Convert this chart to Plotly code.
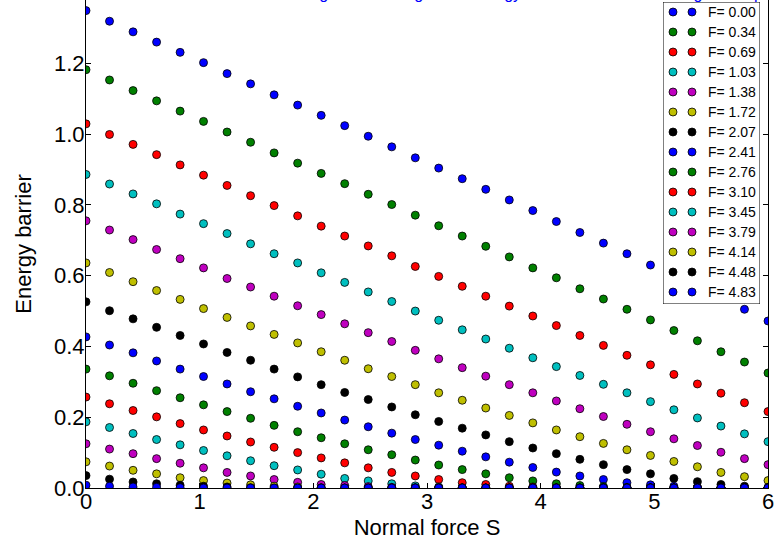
import plotly.graph_objects as go

# ---------------- data ----------------
S = [0.0, 0.207, 0.414, 0.621, 0.828, 1.034, 1.241, 1.448, 1.655, 1.862,
     2.069, 2.276, 2.483, 2.690, 2.897, 3.103, 3.310, 3.517, 3.724, 3.931,
     4.138, 4.345, 4.552, 4.759, 4.966, 5.172, 5.379, 5.586, 5.793, 6.0]

labels = ["F= 0.00", "F= 0.34", "F= 0.69", "F= 1.03", "F= 1.38", "F= 1.72",
          "F= 2.07", "F= 2.41", "F= 2.76", "F= 3.10", "F= 3.45", "F= 3.79",
          "F= 4.14", "F= 4.48", "F= 4.83"]

E_000 = [1.349, 1.319, 1.289, 1.260, 1.231, 1.202, 1.171, 1.142, 1.111, 1.082,
         1.053, 1.024, 0.994, 0.964, 0.933, 0.904, 0.874, 0.844, 0.814, 0.784,
         0.753, 0.722, 0.692, 0.662, 0.630, 0.599, 0.568, 0.536, 0.505, 0.472]
E_034 = [1.182, 1.153, 1.123, 1.094, 1.065, 1.036, 1.006, 0.977, 0.947, 0.918,
         0.889, 0.860, 0.830, 0.801, 0.771, 0.741, 0.712, 0.683, 0.653, 0.622,
         0.594, 0.563, 0.534, 0.505, 0.475, 0.445, 0.416, 0.385, 0.356, 0.325]
E_069 = [1.029, 0.999, 0.971, 0.942, 0.913, 0.884, 0.855, 0.826, 0.798, 0.769,
         0.740, 0.712, 0.684, 0.656, 0.626, 0.598, 0.570, 0.542, 0.514, 0.486,
         0.459, 0.431, 0.403, 0.375, 0.348, 0.321, 0.294, 0.268, 0.241, 0.216]
E_103 = [0.886, 0.859, 0.831, 0.803, 0.774, 0.747, 0.719, 0.690, 0.662, 0.636,
         0.608, 0.581, 0.554, 0.527, 0.500, 0.474, 0.447, 0.421, 0.395, 0.368,
         0.343, 0.318, 0.293, 0.269, 0.244, 0.221, 0.198, 0.175, 0.153, 0.131]
E_138 = [0.755, 0.729, 0.702, 0.674, 0.648, 0.622, 0.592, 0.568, 0.542, 0.515,
         0.490, 0.464, 0.439, 0.414, 0.389, 0.365, 0.340, 0.316, 0.292, 0.269,
         0.246, 0.224, 0.202, 0.180, 0.159, 0.139, 0.120, 0.101, 0.083, 0.066]
E_172 = [0.636, 0.609, 0.583, 0.558, 0.533, 0.507, 0.482, 0.458, 0.434, 0.410,
         0.385, 0.361, 0.337, 0.315, 0.292, 0.269, 0.248, 0.226, 0.205, 0.184,
         0.164, 0.145, 0.126, 0.108, 0.092, 0.075, 0.060, 0.044, 0.032, 0.021]
E_207 = [0.526, 0.501, 0.478, 0.454, 0.431, 0.407, 0.383, 0.361, 0.336, 0.314,
         0.292, 0.270, 0.250, 0.229, 0.207, 0.188, 0.169, 0.150, 0.131, 0.113,
         0.097, 0.081, 0.066, 0.052, 0.040, 0.027, 0.018, 0.010, 0.005, 0.002]
E_241 = [0.427, 0.404, 0.382, 0.359, 0.336, 0.315, 0.294, 0.272, 0.252, 0.231,
         0.212, 0.192, 0.173, 0.155, 0.137, 0.121, 0.104, 0.088, 0.073, 0.058,
         0.045, 0.034, 0.024, 0.015, 0.009, 0.005, 0.002, 0.001, 0.000, 0.000]
E_276 = [0.336, 0.317, 0.296, 0.275, 0.255, 0.235, 0.216, 0.197, 0.177, 0.159,
         0.142, 0.125, 0.108, 0.094, 0.079, 0.065, 0.052, 0.040, 0.029, 0.020,
         0.012, 0.007, 0.004, 0.002, 0.001, 0.000, 0.000, 0.000, 0.000, 0.000]
E_310 = [0.257, 0.238, 0.219, 0.201, 0.182, 0.164, 0.147, 0.130, 0.115, 0.100,
         0.085, 0.071, 0.057, 0.044, 0.034, 0.024, 0.015, 0.010, 0.005, 0.003,
         0.001, 0.000, 0.000, 0.000, 0.000, 0.000, 0.000, 0.000, 0.000, 0.000]
E_345 = [0.187, 0.171, 0.154, 0.137, 0.122, 0.106, 0.091, 0.077, 0.063, 0.051,
         0.039, 0.027, 0.020, 0.012, 0.006, 0.003, 0.001, 0.000, 0.000, 0.000,
         0.000, 0.000, 0.000, 0.000, 0.000, 0.000, 0.000, 0.000, 0.000, 0.000]
E_379 = [0.125, 0.110, 0.097, 0.083, 0.070, 0.057, 0.044, 0.034, 0.024, 0.016,
         0.010, 0.007, 0.004, 0.002, 0.001, 0.000, 0.000, 0.000, 0.000, 0.000,
         0.000, 0.000, 0.000, 0.000, 0.000, 0.000, 0.000, 0.000, 0.000, 0.000]
E_414 = [0.074, 0.062, 0.050, 0.040, 0.029, 0.021, 0.014, 0.009, 0.005, 0.003,
         0.001, 0.000, 0.000, 0.000, 0.000, 0.000, 0.000, 0.000, 0.000, 0.000,
         0.000, 0.000, 0.000, 0.000, 0.000, 0.000, 0.000, 0.000, 0.000, 0.000]
E_448 = [0.035, 0.025, 0.017, 0.012, 0.008, 0.005, 0.003, 0.001, 0.000, 0.000,
         0.000, 0.000, 0.000, 0.000, 0.000, 0.000, 0.000, 0.000, 0.000, 0.000,
         0.000, 0.000, 0.000, 0.000, 0.000, 0.000, 0.000, 0.000, 0.000, 0.000]
E_483 = [0.008, 0.005, 0.003, 0.002, 0.001, 0.000, 0.000, 0.000, 0.000, 0.000,
         0.000, 0.000, 0.000, 0.000, 0.000, 0.000, 0.000, 0.000, 0.000, 0.000,
         0.000, 0.000, 0.000, 0.000, 0.000, 0.000, 0.000, 0.000, 0.000, 0.000]

series = [E_000, E_034, E_069, E_103, E_138, E_172, E_207, E_241,
          E_276, E_310, E_345, E_379, E_414, E_448, E_483]

x_ticks = [0, 1, 2, 3, 4, 5, 6]
y_ticks = [0.0, 0.2, 0.4, 0.6, 0.8, 1.0, 1.2]

title_text = "Sliding: the lowering of the energy barrier with force F along the slope"

# ---------------- style ----------------
cycle = ["#0000ff", "#008000", "#ff0000", "#00bfbf", "#bf00bf", "#bfbf00", "#000000"]
FONT = "Liberation Sans, Arial, sans-serif"
W, H = 778, 543
ML, MR, MT, MB = 86, 10, 0, 55

fig = go.Figure()

for i, (lab, vals) in enumerate(zip(labels, series)):
    fig.add_trace(go.Scatter(
        x=S, y=vals, mode="markers", name=lab, showlegend=False,
        marker=dict(size=8, color=cycle[i % 7], line=dict(color="black", width=0.8)),
        cliponaxis=True, xaxis="x", yaxis="y"))

# ---------------- custom matplotlib-like legend (own small subplot) ----------------
pw = W - ML - MR
ph = H - MT - MB
lx0, lx1, ly0, ly1 = 663, 760, 2, 304   # pixel box
box_w, box_h = lx1 - lx0, ly1 - ly0
fig.add_trace(go.Scatter(
    x=[0, box_w, box_w, 0, 0], y=[0, 0, box_h, box_h, 0], mode="lines",
    fill="toself", fillcolor="white", line=dict(color="black", width=1),
    showlegend=False, hoverinfo="skip", cliponaxis=False, xaxis="x2", yaxis="y2"))
for i, lab in enumerate(labels):
    ry = 10 + 20 * i
    fig.add_trace(go.Scatter(
        x=[10, 29], y=[ry, ry], mode="markers", showlegend=False, hoverinfo="skip",
        marker=dict(size=8, color=cycle[i % 7], line=dict(color="black", width=0.8)),
        cliponaxis=False, xaxis="x2", yaxis="y2"))
    fig.add_annotation(x=43, y=ry, xref="x2", yref="y2", text=lab, showarrow=False,
                       xanchor="left", yanchor="middle",
                       font=dict(family=FONT, size=14, color="black"))

# clipped title (only descenders visible, as in the reference)
fig.add_annotation(x=(278 - ML) / pw, y=1, xref="paper", yref="paper",
                   text=title_text, showarrow=False, xanchor="left", yanchor="bottom",
                   yshift=-4, font=dict(family=FONT, size=16, color="#0000ff"))

axis_common = dict(showgrid=False, zeroline=False, showline=True, linecolor="black",
                   linewidth=1, ticks="inside", ticklen=5, tickcolor="black",
                   tickfont=dict(family=FONT, size=22, color="black"))

fig.update_layout(
    width=W, height=H,
    margin=dict(l=ML, r=MR, t=MT, b=MB, pad=0),
    paper_bgcolor="white", plot_bgcolor="white",
    font=dict(family=FONT, color="black"),
    showlegend=False,
    xaxis=dict(range=[0, 6], tickvals=x_ticks, ticktext=[str(v) for v in x_ticks],
               mirror=False, domain=[0, 1], ticklabelstandoff=-6,
               title=dict(text="Normal force S", font=dict(family=FONT, size=22), standoff=6),
               **axis_common),
    yaxis=dict(range=[0, 1.379], tickvals=y_ticks, ticktext=[f"{v:.1f}" for v in y_ticks],
               mirror="ticks", domain=[0, 1], ticklabelstandoff=-4,
               title=dict(text="Energy barrier", font=dict(family=FONT, size=22), standoff=16),
               **axis_common),
    xaxis2=dict(domain=[(lx0 - ML) / pw, (lx1 - ML) / pw], range=[0, box_w],
                visible=False, anchor="y2", fixedrange=True),
    yaxis2=dict(domain=[1 - (ly1 - MT) / ph, 1 - (ly0 - MT) / ph], range=[box_h, 0],
                visible=False, anchor="x2", fixedrange=True),
)

fig.write_html("out.html",
               config={"displayModeBar": False, "staticPlot": True},
               post_script="document.body.style.margin='0';document.body.style.overflow='hidden';")
